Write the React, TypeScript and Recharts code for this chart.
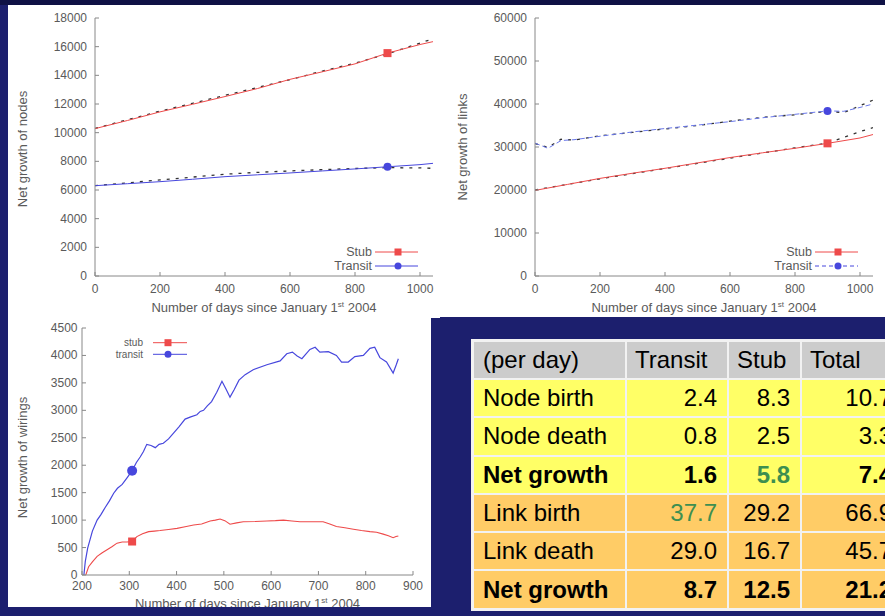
import React from "react";
import { LineChart, Line, XAxis, YAxis, Legend, Label } from "recharts";

// ---- data: net growth of nodes (top left) ----
const nodeDays = [0, 100, 200, 300, 400, 500, 600, 700, 800, 900, 1000, 1040];
const stubNodes = [10280, 10850, 11450, 11980, 12520, 13080, 13720, 14250, 14800, 15550, 16150, 16350];
const stubNodesFit = [10300, 10900, 11500, 12050, 12600, 13150, 13700, 14300, 14850, 15500, 16250, 16550];
const transitNodes = [6300, 6440, 6580, 6750, 6930, 7060, 7190, 7330, 7470, 7620, 7770, 7860];
const transitNodesFit = [6300, 6500, 6700, 6900, 7100, 7230, 7330, 7420, 7500, 7560, 7540, 7510];

// ---- data: net growth of links (top right) ----
const stubLinks = [19900, 21300, 22700, 23900, 25050, 26300, 27550, 28650, 29700, 30850, 32100, 32900];
const stubLinksFit = [20000, 21300, 22600, 23800, 25000, 26200, 27400, 28600, 29800, 30900, 33600, 34500];
const transitLinkDays = [0, 40, 80, 120, 200, 300, 400, 500, 600, 700, 800, 900, 950, 1000, 1040];
const transitLinks = [30900, 29700, 31500, 31700, 32500, 33500, 34300, 35100, 35900, 36800, 37600, 38400, 38300, 39200, 40000];
const transitLinksFit = [30800, 29900, 31800, 31600, 32600, 33400, 34200, 35000, 36000, 36900, 37500, 38300, 38000, 39600, 40900];

// ---- data: net growth of wirings (bottom left) ----
const wiringTransitDays = [204, 207, 212, 222, 232, 240, 249, 258, 267, 275, 285, 296, 306, 315, 323, 330, 337, 346, 355, 363, 372, 383, 394, 405, 418, 430, 443, 450, 457, 465, 474, 485, 496, 505, 513, 522, 532, 545, 562, 591, 619, 633, 645, 655, 665, 682, 693, 703, 721, 738, 749, 763, 777, 795, 809, 819, 830, 844, 858, 865, 869];
const wiringTransit = [0, 250, 490, 800, 1000, 1100, 1230, 1350, 1490, 1580, 1650, 1780, 1900, 2050, 2150, 2250, 2380, 2360, 2320, 2380, 2400, 2480, 2590, 2700, 2840, 2880, 2920, 2980, 3000, 3080, 3160, 3330, 3530, 3380, 3240, 3380, 3550, 3650, 3740, 3830, 3900, 4030, 4060, 3990, 3940, 4110, 4150, 4060, 4070, 4000, 3880, 3880, 3980, 4000, 4130, 4150, 3960, 3880, 3680, 3840, 3940];
const wiringStubDays = [208, 214, 222, 232, 242, 253, 264, 274, 285, 295, 306, 316, 328, 341, 353, 365, 383, 401, 418, 436, 453, 471, 482, 492, 502, 513, 527, 541, 566, 591, 609, 626, 644, 661, 685, 710, 724, 738, 756, 774, 791, 809, 823, 837, 848, 858, 864, 869];
const wiringStub = [0, 150, 240, 340, 400, 460, 520, 580, 600, 600, 610, 700, 750, 790, 800, 810, 830, 850, 880, 910, 930, 985, 1000, 1020, 990, 925, 950, 970, 975, 985, 990, 1000, 985, 970, 970, 970, 930, 885, 860, 835, 810, 790, 780, 745, 715, 680, 700, 710];

// ---- ticks ----
const daysTicks = [0, 200, 400, 600, 800, 1000];
const nodeTicks = [0, 2000, 4000, 6000, 8000, 10000, 12000, 14000, 16000, 18000];
const linkTicks = [0, 10000, 20000, 30000, 40000, 50000, 60000];
const wiringDaysTicks = [200, 300, 400, 500, 600, 700, 800, 900];
const wiringTicks = [0, 500, 1000, 1500, 2000, 2500, 3000, 3500, 4000, 4500];

// ---- table ----
const tableHead = ["(per day)", "Transit", "Stub", "Total"];
const rowLabels = ["Node birth", "Node death", "Net growth", "Link birth", "Link death", "Net growth"];
const transitRate = [2.4, 0.8, 1.6, 37.7, 29.0, 8.7];
const stubRate = [8.3, 2.5, 5.8, 29.2, 16.7, 12.5];
const totalRate = [10.7, 3.3, 7.4, 66.9, 45.7, 21.2];
const boldRows = [2, 5];
const greenCells = ["2-1", "3-0"]; // row-col (col 0 = transit)

const FONT = "'Liberation Sans', Arial, Helvetica, sans-serif";
const INK = "#5a5a5a";
const FRAME = "#888";
const RED = "#ee4a4a";
const BLUE = "#4747dd";
const FIT = "#333";

const pts = (xs: number[], ys: number[]) => xs.map((d, i) => ({ day: d, v: ys[i] }));

const bottomTick = (gap: number) => (p: any) => (
  <g>
    <line x1={p.x} y1={p.y} x2={p.x} y2={p.y - 4} stroke={FRAME} />
    <text x={p.x} y={p.y + gap} textAnchor="middle" dominantBaseline="central" fontFamily={FONT} fontSize={12} fill={INK}>
      {p.payload.value}
    </text>
  </g>
);
const leftTick = (gap: number) => (p: any) => (
  <g>
    <line x1={p.x} y1={p.y} x2={p.x + 4} y2={p.y} stroke={FRAME} />
    <text x={p.x - gap} y={p.y} textAnchor="end" dominantBaseline="central" fontFamily={FONT} fontSize={12} fill={INK}>
      {p.payload.value}
    </text>
  </g>
);
const topTick = (p: any) => <line x1={p.x} y1={p.y} x2={p.x} y2={p.y + 4} stroke={FRAME} />;
const rightTick = (p: any) => <line x1={p.x} y1={p.y} x2={p.x - 4} y2={p.y} stroke={FRAME} />;

const xTitle = (dy: number) => (p: any) => {
  const vb = p.viewBox || { x: 0, y: 0, width: 0 };
  return (
    <text x={vb.x + vb.width / 2} y={vb.y + dy} textAnchor="middle" fontFamily={FONT} fontSize={13} fill={INK}>
      Number of days since January 1<tspan dy={-5} fontSize={8}>st</tspan>
      <tspan dy={5}> 2004</tspan>
    </text>
  );
};
const yTitle = (text: string, dx: number, shift: number) => (p: any) => {
  const vb = p.viewBox || { x: 0, y: 0, height: 0 };
  const cy = vb.y + vb.height / 2 + shift;
  return (
    <text
      transform={`translate(${vb.x + dx}, ${cy}) rotate(-90)`}
      textAnchor="middle"
      dominantBaseline="central"
      fontFamily={FONT}
      fontSize={13}
      fill={INK}
    >
      {text}
    </text>
  );
};

function frameAxes(o: {
  xDomain: number[];
  xTicks: number[];
  yDomain: number[];
  yTicks: number[];
  xHeight: number;
  yWidth: number;
  xGap: number;
  yGap: number;
  xTitleDy: number;
  yTitleText: string;
  yTitleDx: number;
  yTitleShift: number;
}) {
  return [
    <XAxis
      key="xb"
      dataKey="day"
      type="number"
      domain={o.xDomain}
      ticks={o.xTicks}
      interval={0}
      allowDataOverflow
      height={o.xHeight}
      tickSize={0}
      tickMargin={0}
      tickLine={false}
      axisLine={{ stroke: FRAME }}
      tick={bottomTick(o.xGap)}
    >
      <Label content={xTitle(o.xTitleDy)} />
    </XAxis>,
    <XAxis
      key="xt"
      xAxisId="top"
      orientation="top"
      dataKey="day"
      type="number"
      domain={o.xDomain}
      ticks={o.xTicks}
      interval={0}
      allowDataOverflow
      height={0}
      tickSize={0}
      tickMargin={0}
      tickLine={false}
      axisLine={{ stroke: FRAME }}
      tick={topTick}
    />,
    <YAxis
      key="yl"
      type="number"
      domain={o.yDomain}
      ticks={o.yTicks}
      interval={0}
      allowDataOverflow
      width={o.yWidth}
      tickSize={0}
      tickMargin={0}
      tickLine={false}
      axisLine={{ stroke: FRAME }}
      tick={leftTick(o.yGap)}
    >
      <Label content={yTitle(o.yTitleText, o.yTitleDx, o.yTitleShift)} />
    </YAxis>,
    <YAxis
      key="yr"
      yAxisId="right"
      orientation="right"
      type="number"
      domain={o.yDomain}
      ticks={o.yTicks}
      interval={0}
      allowDataOverflow
      width={0}
      tickSize={0}
      tickMargin={0}
      tickLine={false}
      axisLine={{ stroke: FRAME }}
      tick={rightTick}
    />,
  ];
}

function marker(shape: string, color: string, size: number, cx: number, cy: number, key?: any) {
  return shape === "square" ? (
    <rect key={key} x={cx - size / 2} y={cy - size / 2} width={size} height={size} fill={color} />
  ) : (
    <circle key={key} cx={cx} cy={cy} r={size / 2} fill={color} />
  );
}

const markAt = (day: number, shape: string, color: string, size: number) => (p: any) =>
  p.payload && p.payload.day === day ? marker(shape, color, size, p.cx, p.cy, p.index) : <g key={p.index} />;

type Row = { label: string; color: string; dash?: string; shape: string };
function LegendBox(props: {
  rows: Row[];
  width: number;
  height: number;
  textEnd: number;
  lineStart: number;
  lineEnd: number;
  markX: number;
  rowY: number[];
  fontSize: number;
  markSize: number;
}) {
  return (
    <svg width={props.width} height={props.height} style={{ display: "block" }}>
      {props.rows.map((r, i) => (
        <g key={r.label}>
          <text
            x={props.textEnd}
            y={props.rowY[i]}
            textAnchor="end"
            dominantBaseline="central"
            fontFamily={FONT}
            fontSize={props.fontSize}
            fill={INK}
          >
            {r.label}
          </text>
          <line
            x1={props.lineStart}
            x2={props.lineEnd}
            y1={props.rowY[i]}
            y2={props.rowY[i]}
            stroke={r.color}
            strokeDasharray={r.dash}
          />
          {marker(r.shape, r.color, props.markSize, props.markX, props.rowY[i])}
        </g>
      ))}
    </svg>
  );
}

const topLegend = (transitDash?: string) => () => (
  <LegendBox
    rows={[
      { label: "Stub", color: RED, shape: "square" },
      { label: "Transit", color: BLUE, dash: transitDash, shape: "circle" },
    ]}
    width={120}
    height={32}
    textEnd={64}
    lineStart={67}
    lineEnd={110}
    markX={90}
    rowY={[9, 23]}
    fontSize={12.5}
    markSize={7}
  />
);

function NodesChart() {
  return (
    <LineChart width={432} height={313} margin={{ top: 13, right: 7, left: 0, bottom: 0 }}>
      {frameAxes({
        xDomain: [0, 1040],
        xTicks: daysTicks,
        yDomain: [0, 18000],
        yTicks: nodeTicks,
        xHeight: 42,
        yWidth: 95 - 8,
        xGap: 13,
        yGap: 8,
        xTitleDy: 36,
        yTitleText: "Net growth of nodes",
        yTitleDx: 14,
        yTitleShift: 2,
      })}
      <Line data={pts(nodeDays, stubNodesFit)} dataKey="v" stroke={FIT} strokeWidth={1.3} strokeDasharray="3 6" dot={false} activeDot={false} isAnimationActive={false} />
      <Line data={pts(nodeDays, transitNodesFit)} dataKey="v" stroke={FIT} strokeWidth={1.3} strokeDasharray="3 6" dot={false} activeDot={false} isAnimationActive={false} />
      <Line data={pts(nodeDays, stubNodes)} dataKey="v" stroke={RED} strokeWidth={1} dot={markAt(900, "square", RED, 8)} activeDot={false} isAnimationActive={false} />
      <Line data={pts(nodeDays, transitNodes)} dataKey="v" stroke={BLUE} strokeWidth={1} dot={markAt(900, "circle", BLUE, 8)} activeDot={false} isAnimationActive={false} />
      <Legend layout="vertical" align="center" verticalAlign="middle" wrapperStyle={{ left: 300, top: 238, width: 120, height: 32 }} content={topLegend()} />
    </LineChart>
  );
}

function LinksChart() {
  return (
    <LineChart width={445} height={312} margin={{ top: 13, right: 12, left: 0, bottom: 0 }}>
      {frameAxes({
        xDomain: [0, 1040],
        xTicks: daysTicks,
        yDomain: [0, 60000],
        yTicks: linkTicks,
        xHeight: 41,
        yWidth: 95,
        xGap: 13,
        yGap: 8,
        xTitleDy: 36,
        yTitleText: "Net growth of links",
        yTitleDx: 22,
        yTitleShift: 0,
      })}
      <Line data={pts(nodeDays, stubLinksFit)} dataKey="v" stroke={FIT} strokeWidth={1.3} strokeDasharray="3 6" dot={false} activeDot={false} isAnimationActive={false} />
      <Line data={pts(transitLinkDays, transitLinksFit)} dataKey="v" stroke={FIT} strokeWidth={1.3} strokeDasharray="3 6" dot={false} activeDot={false} isAnimationActive={false} />
      <Line data={pts(nodeDays, stubLinks)} dataKey="v" stroke={RED} strokeWidth={1} dot={markAt(900, "square", RED, 8)} activeDot={false} isAnimationActive={false} />
      <Line data={pts(transitLinkDays, transitLinks)} dataKey="v" stroke="#6a78ea" strokeWidth={1} strokeDasharray="5 3" dot={markAt(900, "circle", BLUE, 8)} activeDot={false} isAnimationActive={false} />
      <Legend layout="vertical" align="center" verticalAlign="middle" wrapperStyle={{ left: 308, top: 238, width: 120, height: 32 }} content={topLegend("4 3")} />
    </LineChart>
  );
}

function WiringsChart() {
  return (
    <LineChart width={423} height={289} margin={{ top: 10, right: 18, left: 0, bottom: 0 }}>
      {frameAxes({
        xDomain: [200, 900],
        xTicks: wiringDaysTicks,
        yDomain: [0, 4500],
        yTicks: wiringTicks,
        xHeight: 32,
        yWidth: 74,
        xGap: 11,
        yGap: 4.5,
        xTitleDy: 33,
        yTitleText: "Net growth of wirings",
        yTitleDx: 14,
        yTitleShift: 6,
      })}
      <Line data={pts(wiringStubDays, wiringStub)} dataKey="v" stroke={RED} strokeWidth={1.1} dot={markAt(306, "square", RED, 8)} activeDot={false} isAnimationActive={false} />
      <Line data={pts(wiringTransitDays, wiringTransit)} dataKey="v" stroke={BLUE} strokeWidth={1.2} dot={markAt(306, "circle", BLUE, 10)} activeDot={false} isAnimationActive={false} />
      <Legend
        layout="vertical"
        align="center"
        verticalAlign="middle"
        wrapperStyle={{ left: 90, top: 16, width: 95, height: 28 }}
        content={() => (
          <LegendBox
            rows={[
              { label: "stub", color: RED, shape: "square" },
              { label: "transit", color: BLUE, shape: "circle" },
            ]}
            width={95}
            height={28}
            textEnd={45}
            lineStart={55}
            lineEnd={89}
            markX={70}
            rowY={[8.7, 20.3]}
            fontSize={10}
            markSize={7}
          />
        )}
      />
    </LineChart>
  );
}

function RatesTable() {
  const cols = [transitRate, stubRate, totalRate];
  const cell = (bg: string, extra: React.CSSProperties = {}): React.CSSProperties => ({
    background: bg,
    display: "flex",
    alignItems: "center",
    boxSizing: "border-box",
    fontFamily: FONT,
    fontSize: 24,
    color: "#000",
    whiteSpace: "nowrap",
    overflow: "hidden",
    ...extra,
  });
  return (
    <div
      style={{
        position: "absolute",
        left: 471,
        top: 339,
        display: "grid",
        gridTemplateColumns: "151px 100px 71px 100px",
        gridTemplateRows: "36px repeat(6, 36.3px)",
        gap: 2,
        padding: 3,
        background: "#f2f2f2",
      }}
    >
      {tableHead.map((h, i) => (
        <div key={h} style={cell("#cccccc", { paddingLeft: i === 0 ? 9 : 8 })}>
          {h}
        </div>
      ))}
      {rowLabels.map((label, r) => {
        const bg = r < 3 ? "#ffff66" : "#ffcc66";
        const bold = boldRows.includes(r);
        return (
          <React.Fragment key={r}>
            <div style={cell(bg, { paddingLeft: 9, fontWeight: bold ? 700 : 400 })}>{label}</div>
            {cols.map((col, c) => (
              <div
                key={c}
                style={cell(bg, {
                  justifyContent: "flex-end",
                  paddingRight: 10,
                  fontWeight: bold ? 700 : 400,
                  color: greenCells.includes(`${r}-${c}`) ? "#3d8f50" : "#000",
                })}
              >
                {col[r].toFixed(1)}
              </div>
            ))}
          </React.Fragment>
        );
      })}
    </div>
  );
}

export default function App() {
  return (
    <div
      style={{
        position: "absolute",
        left: 0,
        top: 0,
        width: 885,
        height: 616,
        overflow: "hidden",
        background: "#1c1f6e",
      }}
    >
      <div style={{ position: "absolute", left: 0, top: 0, width: 885, height: 5, background: "#0f1145" }} />
      <div style={{ position: "absolute", left: 8, top: 5, width: 432, height: 313, background: "#fff" }}>
        <NodesChart />
      </div>
      <div style={{ position: "absolute", left: 440, top: 5, width: 445, height: 312, background: "#fff" }}>
        <LinksChart />
      </div>
      <div style={{ position: "absolute", left: 8, top: 318, width: 423, height: 289, background: "#fff", overflow: "hidden" }}>
        <WiringsChart />
      </div>
      <RatesTable />
    </div>
  );
}
